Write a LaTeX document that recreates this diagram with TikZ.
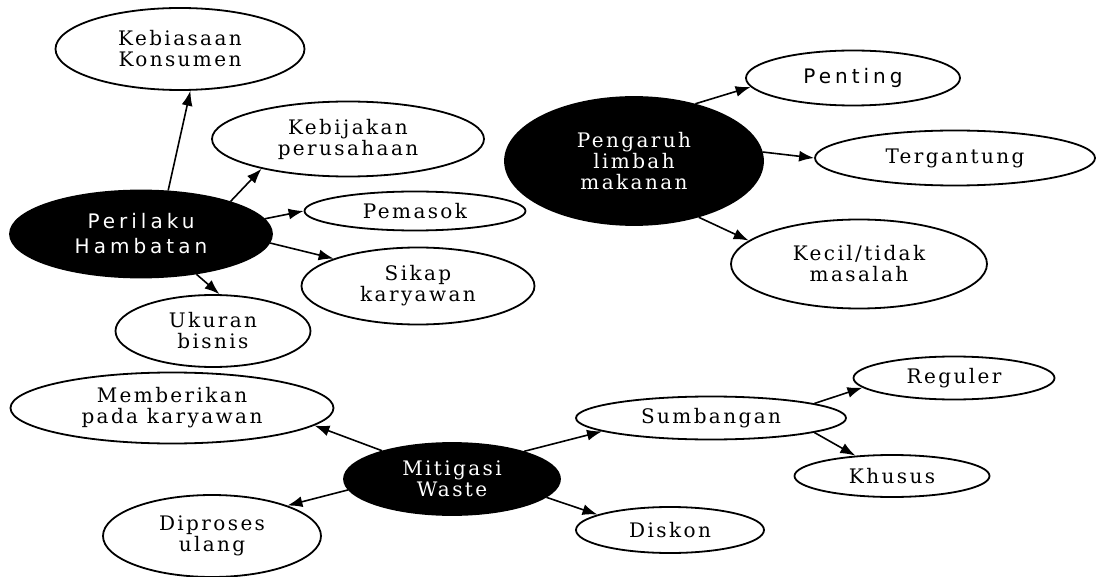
\documentclass[tikz,border=0pt]{standalone}
\usepackage{fontspec}
\setmainfont{DejaVu Serif}[LetterSpace=12]
\newfontfamily\hubsans{DejaVu Sans}[LetterSpace=20]
\usetikzlibrary{shapes.geometric,arrows.meta}
\begin{document}
\begin{tikzpicture}[x=0.5pt,y=-0.5pt,
  leaf/.style={ellipse, draw, line width=0.9pt, inner sep=0pt, align=center, font=\fontsize{10}{10.5}\selectfont},
  hub/.style={leaf, fill=black, text=white},
  sanslabel/.style={font=\hubsans\fontsize{10}{12.5}\selectfont},
  link/.style={-{Latex[length=7.5pt,width=5.5pt]}, line width=0.8pt}]
\useasboundingbox (0,0) rectangle (1097,577);
\node[hub, sanslabel, minimum width=131pt, minimum height=43.5pt] (perilaku) at (141,234){Perilaku\\Hambatan};
\node[leaf, minimum width=124.5pt, minimum height=41pt] (kebiasaan) at (180,49){Kebiasaan\\Konsumen};
\node[leaf, minimum width=136pt, minimum height=37.5pt] (kebijakan) at (348,139){Kebijakan\\perusahaan};
\node[leaf, minimum width=110.5pt, minimum height=19.5pt] (pemasok) at (415,211){Pemasok};
\node[leaf, minimum width=116.5pt, minimum height=38.5pt] (sikap) at (418,286){Sikap\\karyawan};
\node[leaf, minimum width=97.5pt, minimum height=36pt] (ukuran) at (213,331){Ukuran\\bisnis};
\draw[link](perilaku.58) -- (kebiasaan.-76);
\draw[link](perilaku.20) -- (kebijakan.-161);
\draw[link](perilaku.7) -- (pemasok.180);
\draw[link](perilaku.-4) -- (sikap.162);
\draw[link](perilaku.-36) -- (ukuran.80);
\node[hub, minimum width=129pt, minimum height=64pt] (pengaruh) at (634,161){Pengaruh\\limbah\\makanan};
\node[leaf, sanslabel, minimum width=107pt, minimum height=27.5pt] (penting) at (853,78){Penting};
\node[leaf, minimum width=140pt, minimum height=27.5pt] (tergantung) at (955,158){Tergantung};
\node[leaf, minimum width=128pt, minimum height=44.5pt] (kecil) at (859,264){Kecil/tidak\\masalah};
\draw[link](pengaruh.43) -- (penting.-175);
\draw[link](pengaruh.4) -- (tergantung.180);
\draw[link](pengaruh.-41) -- (kecil.168);
\node[hub, minimum width=108pt, minimum height=36pt] (mitigasi) at (452,479){Mitigasi\\Waste};
\node[leaf, minimum width=161.5pt, minimum height=35.5pt] (memberikan) at (172,408){Memberikan\\pada karyawan};
\node[leaf, minimum width=109pt, minimum height=41pt] (diproses) at (212,536){Diproses\\ulang};
\node[leaf, minimum width=94pt, minimum height=23pt] (diskon) at (670,530){Diskon};
\node[leaf, minimum width=135pt, minimum height=21.5pt] (sumbangan) at (711,418){Sumbangan};
\node[leaf, minimum width=100.5pt, minimum height=21.5pt] (reguler) at (954,378){Reguler};
\node[leaf, minimum width=97.5pt, minimum height=21pt] (khusus) at (892,476){Khusus};
\draw[link](mitigasi.158) -- (memberikan.-7);
\draw[link](mitigasi.-174) -- (diproses.22);
\draw[link](mitigasi.21) -- (sumbangan.-173);
\draw[link](mitigasi.-11) -- (diskon.168);
\draw[link](sumbangan.8) -- (reguler.-174);
\draw[link](sumbangan.-8) -- (khusus.151);
\end{tikzpicture}
\end{document}
